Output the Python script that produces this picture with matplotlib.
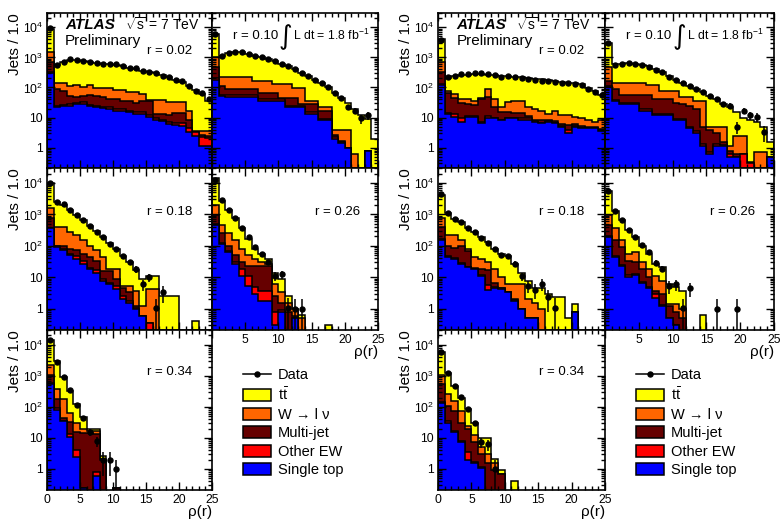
import numpy as np
import matplotlib
matplotlib.use("Agg")
import matplotlib.pyplot as plt
from matplotlib.patches import Patch
from matplotlib.lines import Line2D
from matplotlib.ticker import MultipleLocator, LogLocator, FixedLocator, FuncFormatter, NullFormatter

plt.rcParams['font.family'] = ['Liberation Sans', 'DejaVu Sans']
plt.rcParams['mathtext.fontset'] = 'custom'
plt.rcParams['mathtext.rm'] = 'Liberation Sans'
plt.rcParams['mathtext.it'] = 'Liberation Sans:italic'
plt.rcParams['mathtext.bf'] = 'Liberation Sans:bold'

# rho(r) bins, width 1 from 0 to 25
edges = np.arange(26)

# stack heights: each level includes everything below it
# (tt = full stack, w = up to W->lnu, mj = up to multi-jet, ew = up to other EW, st = single top)

# ---- left set ----
L02_data = [9500, 580, 710, 870, 800, 740, 710, 650, 620, 620, 620, 530, 460, 430, 360, 335, 300, 250, 215, 180, 160, 110, 76, 67, 41]
L02_tt = [9000, 560, 700, 850, 800, 740, 700, 650, 620, 600, 560, 520, 460, 420, 365, 335, 300, 260, 220, 180, 150, 112, 80, 62, 36]
L02_w = [1550, 141, 141, 110, 125, 105, 125, 95, 95, 95, 80, 80, 70, 70, 62, 38, 38, 38, 33, 33, 33, 17, 3.5, 3.5, 3.5]
L02_mj = [700, 86, 75, 52, 48, 52, 58, 52, 48, 42, 42, 36, 36, 30, 36, 36, 13, 13, 12, 14, 14, 8, 3.4, 2.6, 2.4]
L02_ew = [330, 25, 27, 28, 31, 33, 26, 25, 23, 22, 20, 19, 17, 15, 15, 12, 10, 8.5, 7, 6.5, 6.5, 4.5, 3.2, 2.2, 2.1]
L02_st = [300, 22, 24, 25, 28, 28, 24, 22, 21, 20, 17, 17, 15, 13.5, 13.5, 10.5, 8, 7.5, 6, 5.6, 5.4, 3.4, 2.4, 1.1, 1.1]

L10_data = [5800, 1150, 1400, 1560, 1480, 1310, 1150, 1020, 910, 740, 620, 510, 400, 300, 240, 180, 140, 100, 67, 46, 22, 17, 9.3, 11.8, 0]
L10_tt = [5800, 1100, 1400, 1550, 1480, 1300, 1150, 1000, 900, 740, 620, 510, 400, 300, 240, 180, 140, 100, 67, 46, 30, 20, 12, 9, 2]
L10_w = [1000, 230, 230, 230, 230, 230, 160, 160, 160, 130, 130, 130, 93, 93, 36, 36, 22, 22, 3.9, 3.9, 3.9, 0.6, 0, 0.8, 0]
L10_mj = [490, 110, 86, 86, 86, 86, 86, 67, 67, 67, 46, 46, 46, 28, 28, 28, 17, 17, 2.6, 1.6, 1.0, 0, 0, 0.8, 0]
L10_ew = [200, 58, 55, 55, 56, 55, 55, 40, 40, 40, 40, 25, 25, 25, 15, 15, 9, 9, 2.3, 1.5, 1.0, 0, 0, 0.8, 0]
L10_st = [180, 52, 50, 50, 50, 50, 50, 36, 36, 36, 36, 22, 22, 22, 13.5, 13.5, 8, 8, 2.0, 1.45, 1.0, 0, 0, 0.8, 0]

L18_data = [10000, 2570, 2100, 1390, 960, 650, 440, 280, 190, 117, 81, 47, 30, 18.4, 6, 10, 1.07, 3.3]
L18_tt = [10000, 2400, 2000, 1400, 950, 650, 440, 290, 190, 120, 80, 47, 30, 17, 8.8, 11, 11, 2.5, 2.5, 2.5, 0, 0, 0.4]
L18_w = [1580, 400, 400, 280, 217, 150, 100, 72, 44, 18, 18, 5.4, 5.4, 3.7, 1.2, 4.2, 4.2]
L18_mj = [750, 100, 100, 81, 72, 56, 44, 34, 16, 16, 8.8, 4.7, 3.3, 1.2, 0.58, 0.35]
L18_ew = [380, 96, 82, 56, 48, 34, 20, 17, 8.5, 6.6, 5.3, 2.6, 1.7, 1.05, 0.58, 0.35]
L18_st = [360, 92, 72, 52, 39, 27, 18, 14, 7.8, 6, 4.2, 2, 1.56, 1, 0.58]

L26_data = [12700, 2900, 1400, 750, 375, 192, 92, 56, 30, 11, 12.7, 1.08, 1.0, 1.0]
L26_tt = [14000, 2600, 1400, 750, 375, 170, 81, 56, 39, 14, 8.8, 2.6, 1.0, 0.65, 0, 0, 0, 0.3]
L26_w = [2000, 460, 250, 150, 81, 50, 39, 30, 27, 6, 3.3, 1.5, 1.0, 0.5]
L26_mj = [950, 250, 100, 50, 30, 23, 23, 23, 23, 2.5, 1.5, 0.8, 0.6]
L26_ew = [480, 125, 68, 30, 18, 11, 5, 3.7, 3.7, 0.8, 0.9, 0, 0.5]
L26_st = [450, 117, 63, 27, 11, 5.4, 3, 1.8, 1.8, 0.3, 0.8, 0, 0.5]

L34_data = [14500, 2800, 920, 350, 112, 44, 15, 8.1, 2, 2, 1]
L34_tt = [14500, 3000, 920, 330, 120, 46, 20, 19, 2.7, 0, 0.25]
L34_w = [2200, 375, 175, 64, 30, 20, 17, 17, 2.1, 0, 0.25]
L34_mj = [1030, 175, 44, 32, 16, 14, 14, 13, 2.0, 0, 0.25]
L34_ew = [580, 90, 36, 13, 4, 0.25, 0, 0.8]
L34_st = [540, 82, 34, 11, 2.4, 0.25, 0, 0.6]

# ---- right set ----
R02_data = [3900, 215, 250, 275, 275, 300, 300, 275, 260, 230, 250, 230, 205, 195, 180, 170, 160, 150, 140, 140, 130, 125, 86, 73, 57]
R02_tt = [4000, 210, 240, 260, 270, 285, 285, 270, 255, 235, 240, 230, 215, 210, 195, 185, 175, 165, 155, 145, 145, 135, 95, 75, 55]
R02_w = [700, 76, 60, 41, 41, 36, 46, 92, 41, 22, 32, 36, 36, 22, 20, 16, 13.5, 16, 12, 12, 10.5, 9.3, 8.2, 7.3, 8]
R02_mj = [320, 65, 45, 30, 28, 26, 40, 50, 22, 15, 15, 14, 14, 11, 8.5, 8, 8.5, 7.5, 6, 5.5, 6, 5.2, 5, 5, 4.3]
R02_ew = [135, 14, 13, 9.5, 11, 11, 7, 11, 9.8, 8.6, 9.8, 9.8, 9.5, 9.5, 7.7, 6.8, 7.7, 6.8, 5.2, 3.8, 5.3, 4.6, 4.5, 4.5, 3.9]
R02_st = [125, 13.5, 10.5, 7.3, 10.5, 10.5, 6.4, 9.3, 9.3, 8.2, 9.3, 9.3, 8.2, 8.2, 7.3, 6.4, 7.3, 6.4, 5, 3, 5, 4.4, 4.4, 4.4, 3.6]

R10_data = [3100, 580, 620, 640, 620, 560, 490, 380, 335, 230, 180, 140, 110, 86, 73, 52, 41, 28, 25, 5, 17, 12, 10.5, 3.4]
R10_tt = [3100, 600, 620, 640, 620, 580, 500, 400, 340, 240, 180, 140, 110, 86, 73, 52, 41, 28, 22, 15, 10, 8, 7, 5, 1.5]
R10_w = [480, 140, 140, 140, 140, 140, 125, 125, 76, 76, 76, 50, 50, 36, 36, 5, 5, 5, 1.1, 2.4, 2.4, 0.33, 0.7, 0.7, 0.5]
R10_mj = [160, 86, 55, 55, 55, 55, 55, 40, 40, 40, 30, 28, 25, 20, 5, 4, 3, 1.5, 0.8, 0.6, 0.6, 0.3, 0, 0, 0.5]
R10_ew = [110, 38, 30, 30, 30, 19, 19, 13.5, 13.5, 13, 9, 9, 5, 3.5, 1.3, 0.7, 1.3, 1.2, 0.6, 0.5, 0.6, 0.3, 0, 0, 0.5]
R10_st = [100, 36, 28, 28, 28, 17, 17, 12, 12, 12, 8, 8, 4.4, 3, 1.1, 0.6, 1.1, 1.1, 0.5, 0.5, 0, 0, 0, 0, 0.5]

R18_data = [4450, 1080, 710, 580, 375, 280, 180, 126, 81, 52, 47, 27, 10.7, 5.4, 4, 6.1, 2.3, 1.08]
R18_tt = [4300, 1080, 720, 580, 380, 280, 190, 133, 81, 55, 47, 27, 14, 7.7, 4.7, 4.7, 2.9, 2.3, 2.3, 0.5, 1.4]
R18_w = [750, 217, 217, 150, 81, 44, 39, 30, 18, 10, 6, 6, 6, 2, 1.56, 0.95, 0, 0, 0, 0, 0.8]
R18_mj = [400, 100, 85, 100, 70, 20, 18, 17, 6.7, 4.7, 3.5, 2, 1, 0.5, 0.5, 0, 0, 0, 0, 0, 0.8]
R18_ew = [160, 46, 41, 28, 22, 19, 12, 5.8, 5, 4.4, 3.4, 1.9, 1, 0.5, 0.5, 0, 0, 0, 0, 0, 0.8]
R18_st = [150, 44, 39, 27, 21, 18, 11, 4, 4.7, 4.2, 3.3, 1.8, 1, 0.5, 0.5, 0, 0, 0, 0, 0, 0.8]

R26_data = [5400, 1290, 660, 315, 192, 110, 66, 29, 19, 5.1, 6, 1.07, 4.4, 0, 0, 0, 1, 0, 0, 1]
R26_tt = [5400, 1290, 660, 315, 192, 100, 56, 27, 21, 6, 5, 3.7, 0, 0, 0.65]
R26_w = [950, 360, 150, 56, 63, 30, 18, 11, 7.7, 1.4, 1.4, 1.0]
R26_mj = [460, 150, 92, 34, 30, 18, 10, 3.7, 2.9, 1.2, 0.8, 0.5]
R26_ew = [200, 46, 25, 12, 13, 7.2, 5, 3, 1.3, 0.5, 0.3]
R26_st = [192, 44, 23, 10, 12, 6.8, 4.7, 2.2, 1.2, 0.5, 0.3]

R34_data = [6000, 1260, 460, 215, 83, 30, 7.5, 6.3, 1]
R34_tt = [6000, 1260, 460, 200, 85, 30, 10, 9.7, 2.1, 0.9, 0, 0.4]
R34_w = [1030, 260, 150, 75, 25, 12, 5, 3, 1.5, 0.7]
R34_mj = [550, 105, 73, 30, 20, 7.5, 3.1, 1.5, 0.9, 0.7]
R34_ew = [145, 34, 17, 8, 3.6, 1.7, 1.2, 0.2]
R34_st = [137, 30, 16, 7.5, 2, 1.5, 1.1, 0.2]

labels = ['Data', r'$\mathrm{t}\bar{\mathrm{t}}$', 'W → l ν', 'Multi-jet', 'Other EW', 'Single top']
colors = ['#ffff00', '#ff6600', '#660000', '#ff0000', '#0000ff']


def full(v):
    v = np.array(v, dtype=float)
    return np.pad(v, (0, 25 - len(v)))


W, H = 782, 521
fig = plt.figure(figsize=(W / 100, H / 100), dpi=100)


def box(x0, x1, y0, y1):
    return [x0 / W, 1 - y1 / H, (x1 - x0) / W, (y1 - y0) / H]


def draw_panel(ax, data, levels, rtext, rpos):
    for lev, col in zip(levels, colors):
        v = full(lev)
        v = np.where(v > 0, v, 1e-3)
        ax.stairs(v, edges, baseline=1e-3, fill=True, facecolor=col,
                  edgecolor='black', linewidth=1.1)
    d = full(data)
    m = d > 0
    x = edges[:-1] + 0.5
    err = np.sqrt(d[m])
    lo = np.minimum(err, d[m] - 1e-3)
    ax.errorbar(x[m], d[m], yerr=[lo, err], fmt='o', color='black', ms=3.6,
                elinewidth=1.1, capsize=0, zorder=5)
    ax.set_xlim(0, 25)
    ax.set_yscale('log')
    ax.set_ylim(0.21, 3e4)
    ax.xaxis.set_major_locator(MultipleLocator(5))
    ax.xaxis.set_minor_locator(MultipleLocator(1))
    ax.yaxis.set_major_locator(FixedLocator([1, 10, 100, 1000, 10000]))
    ax.yaxis.set_minor_locator(LogLocator(base=10, subs=np.arange(2, 10), numticks=30))
    ax.yaxis.set_minor_formatter(NullFormatter())
    ax.yaxis.set_major_formatter(FuncFormatter(
        lambda v, p: {1: '1', 10: '10'}.get(int(round(v)), r'$10^{%d}$' % round(np.log10(v)))))
    ax.tick_params(which='both', direction='in', top=True, right=True, width=1,
                   labelsize=8.7, pad=3)
    ax.tick_params(which='major', length=6)
    ax.tick_params(which='minor', length=3)
    for s in ax.spines.values():
        s.set_linewidth(1.2)
    ax.text(rpos[0], rpos[1], rtext, transform=ax.transAxes, fontsize=9.5,
            ha='left', va='center')


rows = [(13, 168), (168, 330), (330, 490)]
blocks = [
    ([(47, 212), (212, 378)],
     [L02_data, L10_data, L18_data, L26_data, L34_data],
     [[L02_tt, L02_w, L02_mj, L02_ew, L02_st],
      [L10_tt, L10_w, L10_mj, L10_ew, L10_st],
      [L18_tt, L18_w, L18_mj, L18_ew, L18_st],
      [L26_tt, L26_w, L26_mj, L26_ew, L26_st],
      [L34_tt, L34_w, L34_mj, L34_ew, L34_st]]),
    ([(438, 605), (605, 774)],
     [R02_data, R10_data, R18_data, R26_data, R34_data],
     [[R02_tt, R02_w, R02_mj, R02_ew, R02_st],
      [R10_tt, R10_w, R10_mj, R10_ew, R10_st],
      [R18_tt, R18_w, R18_mj, R18_ew, R18_st],
      [R26_tt, R26_w, R26_mj, R26_ew, R26_st],
      [R34_tt, R34_w, R34_mj, R34_ew, R34_st]]),
]
grid = [(0, 0), (0, 1), (1, 0), (1, 1), (2, 0)]
rtexts = ['r = 0.02', 'r = 0.10', 'r = 0.18', 'r = 0.26', 'r = 0.34']
rposs = [(0.606, 0.756), (0.127, 0.853), (0.606, 0.728), (0.62, 0.728), (0.606, 0.74)]

for cols, datas, stacks in blocks:
    for k, (ri, ci) in enumerate(grid):
        x0, x1 = cols[ci]
        y0, y1 = rows[ri]
        ax = fig.add_axes(box(x0, x1, y0, y1))
        draw_panel(ax, datas[k], stacks[k], rtexts[k], rposs[k])
        if ci == 0:
            ax.set_ylabel('Jets / 1.0', loc='top', fontsize=11)
            ax.yaxis.set_label_coords(-0.15, 1.0)
        else:
            ax.tick_params(labelleft=False)
        if (ri, ci) == (2, 0) or (ri, ci) == (1, 1):
            ax.set_xlabel('ρ(r)', loc='right', fontsize=11)
            ax.xaxis.set_label_coords(1.0, -0.095)
            if ci == 1:
                ax.xaxis.set_major_formatter(FuncFormatter(lambda v, p: '' if v == 0 else '%g' % v))
        else:
            ax.tick_params(labelbottom=False)
        if (ri, ci) == (0, 0):
            ax.text(0.11, 0.923, 'ATLAS', transform=ax.transAxes, fontsize=11,
                    fontweight='bold', style='italic', ha='left', va='center')
            ax.text(0.47, 0.923, r'$\sqrt{\mathrm{s}}$ = 7 TeV', transform=ax.transAxes,
                    fontsize=10, ha='left', va='center')
            ax.text(0.11, 0.82, 'Preliminary', transform=ax.transAxes, fontsize=11,
                    ha='left', va='center')
        if (ri, ci) == (0, 1):
            ax.text(0.44, 0.845, '∫', transform=ax.transAxes, fontsize=19,
                    family='DejaVu Sans', ha='center', va='center')
            ax.text(0.485, 0.853, r'L dt = 1.8 fb$^{\mathregular{-1}}$', transform=ax.transAxes,
                    fontsize=8.8, ha='left', va='center')

    # legend in the empty bottom-right cell of each block
    handles = [Line2D([], [], color='black', marker='o', ms=3.6, lw=1.1)]
    handles += [Patch(facecolor=c, edgecolor='black', linewidth=1.1) for c in colors]
    lx = (cols[1][0] + 31) / W
    fig.legend(handles, labels, loc='upper left', bbox_to_anchor=(lx, 1 - 368 / H),
               frameon=False, fontsize=10.5, borderpad=0, borderaxespad=0,
               handlelength=1.95, handleheight=0.9, handletextpad=0.45, labelspacing=0.3)

fig.savefig('out.png', dpi=100)
